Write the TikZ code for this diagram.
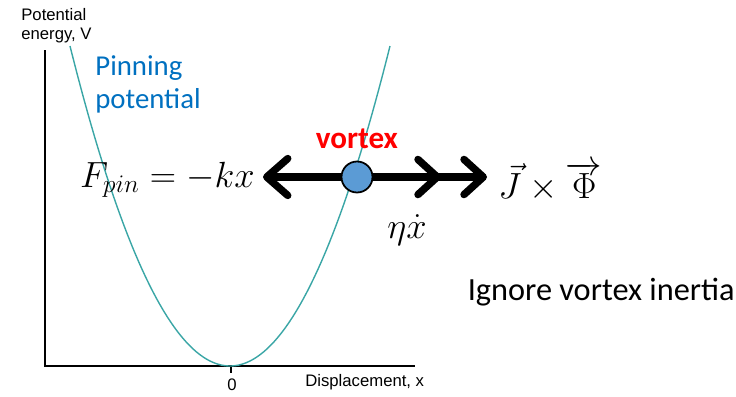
\documentclass[tikz,border=0pt]{standalone}
\usepackage[no-math]{fontspec}
\setmainfont{Carlito}
\newfontfamily\axisfont{Liberation Sans}
\usetikzlibrary{positioning, arrows.meta}
\definecolor{wellcol}{HTML}{3AA6A6}
\definecolor{pincol}{HTML}{0070C0}
\definecolor{vtxfill}{HTML}{5B9BD5}
\definecolor{vtxred}{HTML}{FF0000}
\newlength{\px}
\setlength{\px}{0.02cm}
\tikzset{
    axislbl/.style={font=\axisfont\fontsize{9.5}{11}\selectfont, inner sep=0pt, align=left},
    axisline/.style={black, line width=0.8pt},
    well/.style={wellcol, line width=0.8pt},
    pinlbl/.style={font=\fontsize{16.4}{19}\selectfont, text=pincol, inner sep=0pt, align=left},
    mathlbl/.style={font=\fontsize{22}{25}\selectfont, inner sep=0pt},
    force/.style={line width=4.2pt, line cap=round,
        -{Straight Barb[length=12pt, width=21pt, round]}},
    drive/.style={line width=4.2pt, line cap=round,
        -{Straight Barb[length=11pt, width=20pt, round, sep=11pt]
          Straight Barb[length=11pt, width=20pt, round]}},
    vortex/.style={circle, draw=black, line width=1pt, fill=vtxfill,
        minimum size=31\px, inner sep=0pt},
    note/.style={font=\fontsize{18.4}{22}\selectfont, inner sep=0pt},
}

\begin{document}
\begin{tikzpicture}[x=0.02cm, y=-0.02cm]
\useasboundingbox (0,0) rectangle (736,396);

% axes
\coordinate (origin) at (45,366);
\coordinate (ytop) at (45,50);
\coordinate (xend) at (415,366);
\coordinate (tick) at (231,366);
\draw[axisline] (ytop) -- (origin) -- (xend);
\draw[axisline] (tick) -- ++(0,7);

\node[axislbl, anchor=north west] (ylbl) at (21,8) {Potential\\energy, V};
\node[axislbl, anchor=base west] (xlbl) at (305,386) {Displacement, x};
\node[axislbl, anchor=base] (zero) at (232,390) {0};

% pinning well
\draw[well] plot[domain=70:390, samples=90] (\x, {366 - 3.2*((\x-230)/16)^2});
\node[pinlbl, anchor=north west] (pinning) at (95,55) {Pinning\\potential};

% vortex and forces
\coordinate (vc) at (357,177);
\coordinate (ltip) at (263,177);
\coordinate (rtip) at (487,177);
\draw[force] (vc) -- (ltip);
\draw[drive] (vc) -- (rtip);
\node[vortex] (vtx) at (vc) {};
\node[font=\fontsize{17.7}{20}\selectfont\bfseries, text=vtxred, inner sep=0pt,
      above=12\px of vtx] (vlbl) {vortex};

\node[mathlbl, anchor=east] (fpin) at (255,180) {$F_{pin} = -kx$};
\node[mathlbl] (drag) at (407,230) {$\eta\dot{x}$};
\node[mathlbl, anchor=west] (lorentz) at (498,182) {$\vec{J}\times\overrightarrow{\Phi}$};

\node[note, anchor=east] (inertia) at (735,292) {Ignore vortex inertia};

\end{tikzpicture}
\end{document}
